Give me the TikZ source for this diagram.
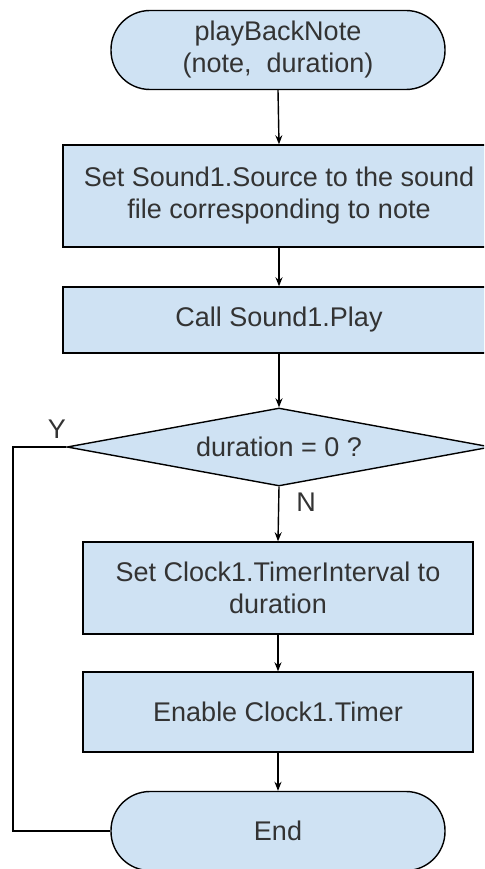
\documentclass[tikz,border=0pt]{standalone}
\usepackage{fontspec}
\setmainfont{Liberation Sans}
\usetikzlibrary{shapes.geometric,arrows.meta}
\definecolor{boxfill}{HTML}{CFE2F3}
\definecolor{txt}{HTML}{333333}
\tikzset{
  base/.style={draw=black, line width=1.4pt, fill=boxfill, text=txt, align=center,
    font=\fontsize{27}{32}\selectfont, inner sep=0pt},
  term/.style={base, rectangle, rounded corners=39pt, minimum width=334pt, minimum height=79pt},
  procbox/.style={base, rectangle, minimum height=#1},
  decbox/.style={base, diamond, minimum width=424pt, minimum height=78pt, aspect=5.4},
  conn/.style={draw=black, line width=1.4pt, -{Stealth[length=9pt,width=7pt]}},
  line/.style={draw=black, line width=1.4pt},
  lbl/.style={text=txt, font=\fontsize{27}{32}\selectfont, inner sep=0pt}
}
\begin{document}
\begin{tikzpicture}[x=1pt,y=-1pt]
\useasboundingbox (0,0) rectangle (484,869);
\clip (0,0) rectangle (484,869);
\node[term] (start) at (278,50) {playBackNote\\(note,\ \ duration)};
\node[procbox=102pt, minimum width=432pt] (set) at (279,196) {Set Sound1.Source to the sound\\file corresponding to note};
\node[procbox=66pt, minimum width=432pt] (call) at (279,320) {Call Sound1.Play};
\node[decbox] (dec) at (279,447) {duration = 0 ?};
\node[procbox=92pt, minimum width=390pt] (clock) at (278,588) {Set Clock1.TimerInterval to\\duration};
\node[procbox=80pt, minimum width=390pt] (enable) at (278,712) {Enable Clock1.Timer};
\node[term] (end) at (278,831) {End};
\coordinate (yc) at (13,447);
\node[lbl] (ylab) at (57,429) {Y};
\node[lbl] (nlab) at (306,502) {N};
\draw[conn] (start.south) -- (set.north);
\draw[conn] (set.south) -- (call.north);
\draw[conn] (call.south) -- (dec.north);
\draw[conn] (dec.south) -- (clock.north);
\draw[conn] (clock.south) -- (enable.north);
\draw[conn] (enable.south) -- (end.north);
\draw[line] (dec.west) -- (yc) |- (end.west);
\end{tikzpicture}
\end{document}
